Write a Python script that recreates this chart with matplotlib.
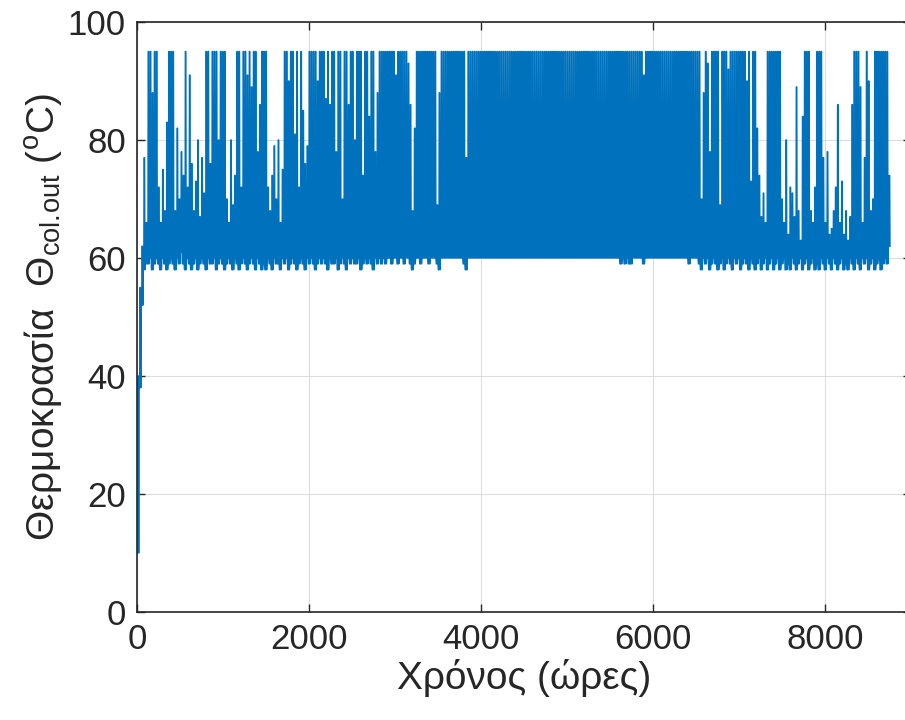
import matplotlib
matplotlib.use("Agg")
import matplotlib.pyplot as plt

plt.rcParams["font.family"] = ["Liberation Sans", "DejaVu Sans"]
plt.rcParams["mathtext.fontset"] = "custom"
plt.rcParams["mathtext.rm"] = "Liberation Sans"
plt.rcParams["mathtext.it"] = "Liberation Sans:italic"

# daily peak outlet temperature of the collector (deg C), day 0..364
peaks = [
    40, 55, 62, 77, 66, 95, 95, 88, 95, 95,
    72, 66, 75, 68, 83, 95, 95, 95, 68, 82,
    70, 78, 74, 95, 72, 91, 76, 68, 73, 80,
    67, 77, 71, 95, 95, 76, 95, 95, 95, 80,
    95, 95, 95, 70, 66, 80, 69, 74, 95, 95,
    72, 95, 95, 91, 95, 89, 95, 95, 78, 86,
    95, 95, 95, 72, 68, 74, 79, 70, 80, 66,
    75, 95, 95, 90, 95, 95, 81, 95, 72, 95,
    85, 76, 79, 95, 95, 95, 95, 90, 95, 95,
    95, 87, 95, 86, 95, 95, 78, 95, 95, 70,
    95, 95, 86, 95, 95, 80, 95, 95, 95, 74,
    95, 95, 84, 95, 95, 78, 88, 95, 95, 95,
    95, 95, 95, 95, 95, 91, 95, 95, 95, 95,
    95, 93, 86, 68, 82, 95, 95, 95, 95, 95,
    95, 95, 95, 95, 95, 69, 88, 95, 95, 95,
    95, 95, 95, 95, 95, 95, 95, 95, 95, 77,
    95, 95, 95, 95, 95, 95, 95, 95, 95, 95,
    95, 95, 95, 95, 95, 95, 95, 95, 95, 95,
    95, 95, 95, 95, 95, 95, 95, 95, 95, 95,
    95, 95, 95, 95, 95, 95, 95, 95, 95, 95,
    95, 95, 95, 95, 95, 95, 95, 95, 95, 95,
    95, 95, 95, 95, 95, 95, 95, 95, 95, 95,
    95, 95, 95, 95, 95, 95, 95, 95, 95, 95,
    95, 95, 95, 95, 95, 95, 95, 95, 95, 95,
    95, 95, 95, 95, 95, 91, 95, 95, 95, 95,
    95, 95, 95, 95, 95, 95, 95, 95, 95, 95,
    95, 95, 95, 95, 95, 95, 95, 95, 95, 95,
    95, 95, 95, 70, 88, 95, 93, 78, 95, 95,
    95, 95, 69, 95, 95, 95, 92, 95, 95, 95,
    95, 95, 95, 95, 95, 90, 95, 73, 95, 95,
    82, 74, 67, 71, 66, 95, 95, 95, 95, 95,
    95, 95, 70, 66, 80, 64, 72, 71, 67, 89,
    68, 63, 84, 95, 95, 95, 68, 66, 72, 95,
    95, 95, 77, 66, 78, 64, 65, 68, 72, 86,
    66, 73, 64, 68, 63, 67, 86, 95, 95, 95,
    89, 66, 77, 95, 90, 68, 70, 95, 95, 95,
    95, 95, 95, 95, 74,
]

# night-time minimum of each day (deg C)
troughs = [
    10, 38, 52, 58, 59, 59, 60, 58, 59, 60,
    59, 58, 60, 59, 58, 59, 60, 59, 58, 60,
    59, 61, 59, 58, 60, 59, 58, 59, 60, 58,
    59, 60, 59, 58, 60, 59, 59, 60, 58, 59,
    60, 59, 58, 59, 60, 59, 58, 60, 59, 58,
    59, 60, 59, 58, 59, 60, 59, 58, 60, 59,
    58, 59, 58, 60, 59, 58, 60, 59, 59, 58,
    60, 59, 60, 58, 59, 60, 59, 58, 59, 60,
    59, 58, 60, 59, 60, 59, 58, 59, 60, 59,
    60, 59, 58, 60, 59, 59, 60, 58, 59, 60,
    59, 58, 60, 59, 60, 59, 59, 60, 58, 59,
    60, 59, 60, 59, 58, 60, 59, 60, 59, 60,
    59, 60, 60, 59, 60, 60, 59, 60, 60, 59,
    60, 60, 59, 58, 59, 60, 60, 59, 60, 60,
    60, 59, 60, 60, 60, 59, 58, 60, 60, 60,
    60, 60, 60, 60, 60, 60, 60, 60, 59, 58,
    60, 60, 60, 60, 60, 60, 60, 60, 60, 60,
    60, 60, 60, 60, 60, 60, 60, 60, 60, 60,
    60, 60, 60, 60, 60, 60, 60, 60, 60, 60,
    60, 60, 60, 60, 60, 60, 60, 60, 60, 60,
    60, 60, 60, 60, 60, 60, 60, 60, 60, 60,
    60, 60, 60, 60, 60, 60, 60, 60, 60, 60,
    60, 60, 60, 60, 60, 60, 60, 60, 60, 60,
    60, 60, 60, 60, 59, 60, 59, 60, 59, 59,
    60, 60, 60, 60, 60, 59, 60, 60, 60, 60,
    60, 60, 60, 60, 60, 60, 60, 60, 60, 60,
    60, 60, 60, 60, 60, 60, 60, 59, 60, 60,
    60, 60, 59, 58, 60, 59, 60, 58, 59, 60,
    59, 58, 59, 60, 58, 59, 60, 59, 58, 60,
    59, 60, 58, 59, 60, 59, 58, 60, 59, 58,
    59, 60, 58, 59, 60, 58, 59, 60, 58, 59,
    60, 58, 59, 60, 58, 59, 58, 60, 59, 58,
    59, 60, 58, 59, 60, 58, 59, 60, 58, 59,
    58, 60, 59, 58, 60, 59, 58, 60, 59, 58,
    59, 60, 58, 59, 58, 60, 59, 58, 60, 59,
    58, 60, 59, 60, 58, 59, 60, 58, 59, 60,
    58, 59, 60, 59, 62,
]

# hour-of-day points: night level, sunrise, peak plateau, evening
day_hours = [0, 7, 10, 16, 20]

hours = []
temps = []
for d, (lo, hi) in enumerate(zip(troughs, peaks)):
    for h, v in zip(day_hours, [lo, lo, hi, hi, lo]):
        hours.append(d * 24 + h)
        temps.append(v)

fig = plt.figure(figsize=(9.05, 7.2), dpi=100)
ax = fig.add_axes([137 / 905, 108 / 720, (911 - 137) / 905, (612 - 22) / 720])

ax.plot(hours, temps, color="#0072BD", lw=1.0)

ax.set_xlim(0, 9000)
ax.set_ylim(0, 100)
ax.set_xticks([0, 2000, 4000, 6000, 8000])
ax.set_yticks([0, 20, 40, 60, 80, 100])
ax.grid(True, color="#dcdcdc", lw=0.8)
ax.tick_params(direction="in", length=6, width=1, labelsize=25,
               top=True, right=True, colors="#262626", pad=8)
for s in ax.spines.values():
    s.set_color("#262626")
    s.set_linewidth(1.2)

ax.set_xlabel("Χρόνος (ώρες)", fontsize=28, color="#262626", labelpad=2)
ax.set_ylabel(r"Θερμοκρασία  Θ$_{\mathrm{col.\!out}}$ ($^{\mathrm{o}}$C)",
              fontsize=28, color="#262626", labelpad=3)

fig.savefig("out.png", dpi=100)
